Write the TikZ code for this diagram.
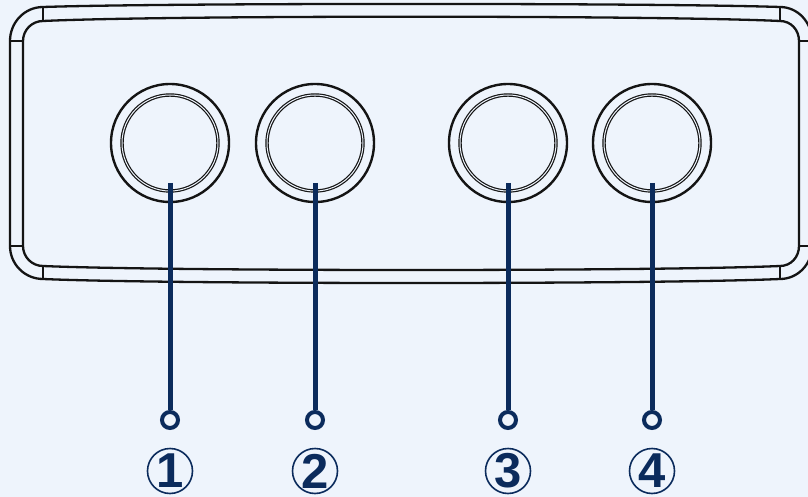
\documentclass[tikz,border=0pt]{standalone}
\usepackage{fontspec}
\setmainfont{Liberation Sans}
\definecolor{bg}{HTML}{EEF4FC}
\definecolor{navy}{HTML}{0B2B5C}
\definecolor{ink}{HTML}{141414}
\begin{document}
\begin{tikzpicture}[x=1pt,y=-1pt,
  frame/.style={draw=ink,line width=2.3pt},
  tick/.style={draw=ink,line width=1.8pt},
  btn/.style={circle,draw=ink,line width=2.4pt,minimum size=118pt,inner sep=0pt},
  ring/.style={draw=ink,line width=1.2pt,double=bg,double distance=1pt},
  lead/.style={draw=navy,line width=5pt},
  dotend/.style={circle,draw=navy,fill=bg,line width=4pt,minimum size=16pt,inner sep=0pt},
  num/.style={circle,draw=navy,line width=1.6pt,minimum size=45pt,inner sep=0pt,text=navy,font=\fontsize{49}{49}\selectfont\bfseries}]
\fill[bg] (0,0) rectangle (808,497);
\useasboundingbox (0,0) rectangle (808,497);
\clip (0,0) rectangle (808,497);
% outer frame
\draw[frame] (43,7) .. controls (166,2.9) and (657,2.9) .. (780,7)
  .. controls (797.7,7) and (812,22.2) .. (812,41) -- (812,246)
  .. controls (812,264.2) and (797.7,279) .. (780,279)
  .. controls (657,284.33) and (166,284.33) .. (43,279)
  .. controls (24.8,279) and (10,264.2) .. (10,246) -- (10,41)
  .. controls (10,22.2) and (24.8,7) .. (43,7) -- cycle;
% inner frame
\draw[frame] (43,21) .. controls (166,15.27) and (657,15.27) .. (780,21)
  .. controls (791,21) and (799,30) .. (799,41) -- (799,246)
  .. controls (799,257) and (791,266) .. (780,266)
  .. controls (657,271.33) and (166,271.33) .. (43,266)
  .. controls (32,266) and (23,257) .. (23,246) -- (23,41)
  .. controls (23,30) and (32,21) .. (43,21) -- cycle;
% ticks
\draw[tick] (10,41) -- (23,41);
\draw[tick] (10,246) -- (23,246);
\draw[tick] (43,7) -- (43,21);
\draw[tick] (43,266) -- (43,279);
\draw[tick] (780,7) -- (780,21);
\draw[tick] (780,266) -- (780,279);
\draw[tick] (799,41) -- (812,41);
\draw[tick] (799,246) -- (812,246);
% buttons and labels
\foreach \i/\x in {1/170,2/315,3/508,4/652} {
  \node[btn] (b\i) at (\x,143) {};
  \draw[ring] (b\i.center) circle[radius=48pt];
  \coordinate (s\i) at (\x,183);
  \node[dotend] (d\i) at (\x,420) {};
  \node[num] (n\i) at (\x,471) {\i};
  \draw[lead] (s\i) -- (d\i);
}
\end{tikzpicture}
\end{document}
